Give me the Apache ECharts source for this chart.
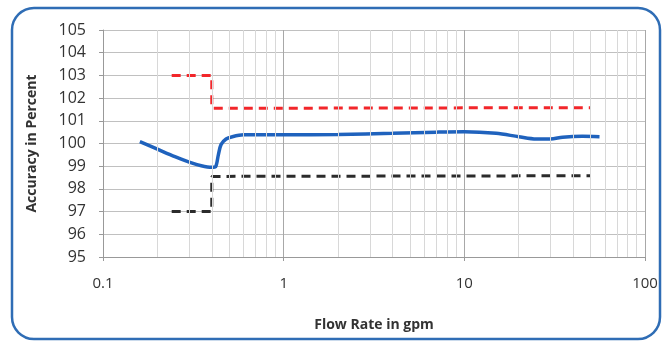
<!DOCTYPE html>
<html>
<head>
<meta charset="utf-8">
<script src="https://cdn.jsdelivr.net/npm/echarts@6/dist/echarts.min.js"></script>
<style>
  html, body { margin: 0; padding: 0; background: #fff; }
  #chart { width: 665px; height: 342px; }
</style>
</head>
<body>
<div id="chart"></div>
<script>
// measured accuracy curve (flow rate gpm, accuracy %)
const meterCurve = [
  [0.16, 100.08], [0.2, 99.75], [0.25, 99.42], [0.3, 99.18], [0.35, 99.02],
  [0.4, 98.95], [0.42, 98.98], [0.435, 99.5], [0.45, 99.95], [0.48, 100.2],
  [0.52, 100.3], [0.6, 100.38], [1, 100.38], [2, 100.4], [4, 100.45],
  [7, 100.5], [10, 100.52], [15, 100.45], [20, 100.3], [25, 100.2],
  [30, 100.2], [35, 100.28], [45, 100.32], [56, 100.3]
];
// upper / lower accuracy limits
const upperLimit = [[0.24, 103], [0.4, 103], [0.4, 101.55], [50, 101.58]];
const lowerLimit = [[0.24, 97], [0.4, 97], [0.4, 98.55], [50, 98.58]];
// minor log gridlines (2..9 per decade)
const minorX = [0.2, 0.3, 0.4, 0.5, 0.6, 0.7, 0.8, 0.9, 2, 3, 4, 5, 6, 7, 8, 9, 20, 30, 40, 50, 60, 70, 80, 90];

const chart = echarts.init(document.getElementById("chart"));
const font = "'Open Sans', 'Noto Sans', sans-serif";

chart.setOption({
  animation: false,
  graphic: [
    {
      type: "rect",
      shape: { x: 12, y: 8, width: 648, height: 331, r: 22 },
      style: { fill: "none", stroke: "#2f6db5", lineWidth: 2.5 },
      silent: true
    }
  ],
  grid: { left: 103, right: 20, top: 30, bottom: 85 },
  xAxis: {
    type: "log",
    logBase: 10,
    min: 0.1,
    max: 100,
    name: "Flow Rate in gpm",
    nameLocation: "middle",
    nameGap: 61,
    nameTextStyle: { fontFamily: font, fontSize: 14, fontWeight: "bold", color: "#333" },
    axisLine: { lineStyle: { color: "#999" } },
    axisTick: { show: true, length: 4, lineStyle: { color: "#999" } },
    axisLabel: { fontFamily: font, fontSize: 15, color: "#333", margin: 19 },
    splitLine: { show: true, lineStyle: { color: "#a8a8a8", width: 1 } }
  },
  yAxis: {
    type: "value",
    min: 95,
    max: 105,
    interval: 1,
    name: "Accuracy in Percent",
    nameLocation: "middle",
    nameGap: 64,
    nameTextStyle: { fontFamily: font, fontSize: 14, fontWeight: "bold", color: "#333" },
    axisLine: { show: true, lineStyle: { color: "#999" } },
    axisTick: { show: true, length: 4, lineStyle: { color: "#999" } },
    axisLabel: { fontFamily: font, fontSize: 16, color: "#333", margin: 17 },
    splitLine: { show: true, lineStyle: { color: "#c0c0c0", width: 1 } }
  },
  series: [
    {
      type: "line",
      data: [],
      silent: true,
      markLine: {
        symbol: "none",
        silent: true,
        label: { show: false },
        lineStyle: { color: "#d8d8d8", type: "solid", width: 1 },
        data: minorX.map(v => ({ xAxis: v }))
      }
    },
    {
      name: "Upper limit",
      type: "line",
      data: upperLimit,
      showSymbol: false,
      lineStyle: { color: "#f2262a", width: 3, type: [9, 6] }
    },
    {
      name: "Lower limit",
      type: "line",
      data: lowerLimit,
      showSymbol: false,
      lineStyle: { color: "#2b2b2b", width: 3, type: [9, 6] }
    },
    {
      name: "Accuracy",
      type: "line",
      data: meterCurve,
      showSymbol: false,
      smooth: 0.3,
      lineStyle: { color: "#1f62bd", width: 3.5 }
    }
  ]
});
</script>
</body>
</html>
